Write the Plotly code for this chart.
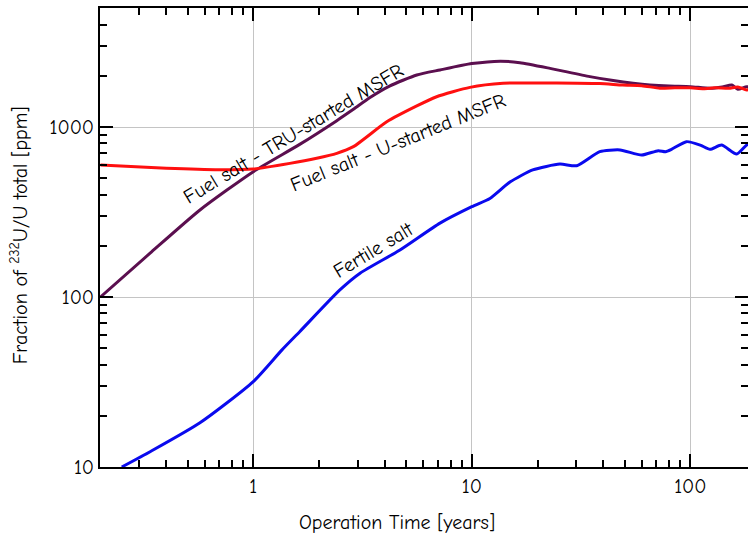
import plotly.graph_objects as go

# ---- data ----
tru_t = [0.2, 0.337, 0.57, 1.0, 1.63, 2.41, 2.87, 3.42, 4.2, 5.6, 7.15, 10, 13.5, 16.6, 22.8,
         34.7, 44.4, 54.7, 65.3, 80, 100, 123, 140, 155, 165, 181, 190]
tru_v = [100, 181, 325, 546, 790, 1090, 1270, 1490, 1740, 2023, 2165, 2360, 2440, 2389, 2213,
         1978, 1875, 1808, 1766, 1740, 1727, 1690, 1720, 1766, 1667, 1727, 1700]

u_t = [0.2, 0.4, 0.7, 1.0, 1.47, 1.95, 2.41, 2.87, 4.08, 5.6, 6.9, 9.8, 13.9, 24.5, 38.5, 49,
       60, 72.6, 85, 100, 115, 130, 150, 165, 181, 190]
u_v = [597, 571, 560, 566, 611, 655, 700, 766, 1073, 1330, 1507, 1711, 1808, 1815, 1800, 1765,
       1750, 1690, 1700, 1700, 1680, 1700, 1690, 1720, 1650, 1700]

fert_t = [0.25, 0.337, 0.57, 1.0, 1.35, 1.63, 2.49, 3.08, 4.69, 7.15, 10, 12.1, 15, 19,
          25.3, 30.2, 38.5, 47.7, 59.9, 71.3, 77, 82, 96, 111, 123, 139, 163, 181, 190]
fert_v = [10, 12.3, 18.2, 31.8, 48.7, 62.5, 110, 138, 189, 272, 340, 380, 476, 559,
          605, 592, 716, 733, 684, 726, 716, 739, 820, 783, 739, 783, 693, 783, 800]

labels = ["Fuel salt - TRU-started MSFR", "Fuel salt - U-started MSFR", "Fertile salt"]
x_title = "Operation Time [years]"
y_title = "Fraction of <sup>232</sup>U/U total [ppm]"

FONT = "Comic Sans MS, Comic Neue, Noto Sans, sans-serif"
X_RANGE = [-0.7016, 2.264]
Y_RANGE = [1.0, 3.7]

fig = go.Figure()
fig.add_trace(go.Scatter(x=tru_t, y=tru_v, mode="lines", line=dict(color="#5b0f4f", width=3, shape="spline", smoothing=0.6)))
fig.add_trace(go.Scatter(x=u_t, y=u_v, mode="lines", line=dict(color="#ff1010", width=3, shape="spline", smoothing=0.6)))
fig.add_trace(go.Scatter(x=fert_t, y=fert_v, mode="lines", line=dict(color="#0a0aee", width=3, shape="spline", smoothing=0.6)))
# invisible traces so the extra tick-only axes get drawn
fig.add_trace(go.Scatter(x=tru_t, y=tru_v, xaxis="x2", yaxis="y2", mode="lines",
                         line=dict(width=0), opacity=0, hoverinfo="skip"))
fig.add_trace(go.Scatter(x=tru_t, y=tru_v, xaxis="x3", yaxis="y3", mode="lines",
                         line=dict(width=0), opacity=0, hoverinfo="skip"))

tick_common = dict(
    type="log", tickmode="linear", tick0=0, dtick=1, exponentformat="none",
    ticks="inside", ticklen=13, tickwidth=2, tickcolor="black", zeroline=False,
    minor=dict(dtick="D1", ticks="inside", ticklen=7, tickwidth=1.5,
               tickcolor="black", showgrid=False),
)

fig.update_layout(
    xaxis=dict(range=X_RANGE, showline=True, linecolor="black", linewidth=2,
               showgrid=True, gridcolor="#c4c4c4", gridwidth=1,
               tickfont=dict(family=FONT, size=20, color="black"), **tick_common),
    yaxis=dict(range=Y_RANGE, showline=True, linecolor="black", linewidth=2,
               showgrid=True, gridcolor="#c4c4c4", gridwidth=1,
               tickfont=dict(family=FONT, size=20, color="black"), **tick_common),
    xaxis2=dict(range=X_RANGE, overlaying="x", side="top", anchor="y",
                showline=True, linecolor="black", linewidth=2,
                showgrid=False, showticklabels=False, **tick_common),
    yaxis2=dict(range=Y_RANGE, overlaying="y", side="right", anchor="x",
                showline=False, showgrid=False, showticklabels=False, **tick_common),
    xaxis3=dict(range=X_RANGE, overlaying="x", side="bottom", anchor="y",
                showline=False, showgrid=False, showticklabels=False, **tick_common),
    yaxis3=dict(range=Y_RANGE, overlaying="y", side="left", anchor="x",
                showline=False, showgrid=False, showticklabels=False, **tick_common),
)

annos = [
    dict(text=labels[0], x=0.299, y=0.727, textangle=-31),
    dict(text=labels[1], x=0.460, y=0.706, textangle=-22),
    dict(text=labels[2], x=0.4236, y=0.4728, textangle=-31),
    dict(text=x_title, x=0.458, y=-0.12, textangle=0),
    dict(text=y_title, x=-0.125, y=0.505, textangle=-90),
]
for a in annos:
    fig.add_annotation(xref="paper", yref="paper", showarrow=False,
                       xanchor="center", yanchor="middle",
                       font=dict(family=FONT, size=20, color="black"), **a)

fig.update_layout(
    width=748, height=533,
    margin=dict(l=100, r=0, t=8, b=66),
    plot_bgcolor="white", paper_bgcolor="white",
    showlegend=False,
)

fig.write_html("out.html", config={"displayModeBar": False},
               post_script="document.body.style.margin='0';document.body.style.overflow='hidden';")
